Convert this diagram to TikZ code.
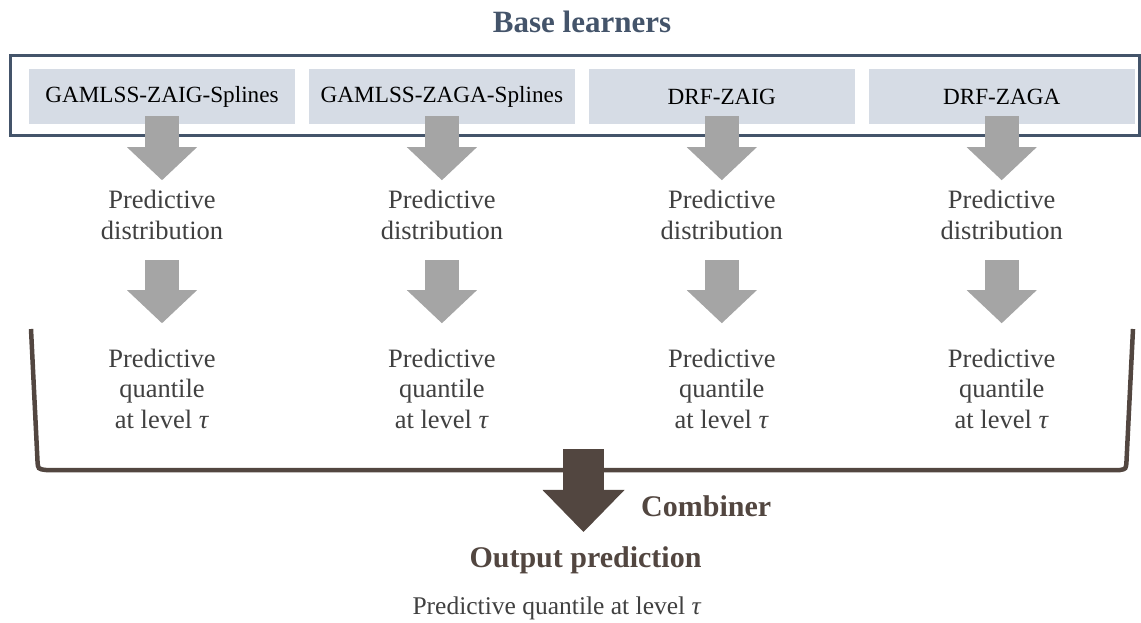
\documentclass[tikz,border=0pt]{standalone}
\usepackage{fontspec}
\setmainfont{Liberation Serif}
\usetikzlibrary{arrows.meta,positioning}

\definecolor{frameblue}{HTML}{44546A}
\definecolor{boxfill}{HTML}{D6DCE5}
\definecolor{arrowgray}{HTML}{A5A5A5}
\definecolor{textgray}{HTML}{404040}
\definecolor{combbrown}{HTML}{524640}

\begin{document}
\begin{tikzpicture}[x=1pt, y=-1pt,
    learner/.style={fill=boxfill, minimum width=266pt, minimum height=55pt, inner sep=0pt,
      font=\fontsize{23.2}{27}\selectfont},
    outcome/.style={align=center, inner sep=0pt, text=textgray, font=\fontsize{26.5}{30.5}\selectfont},
    blockarrow/.style={draw=arrowgray, line width=34pt,
      -{Triangle[width=70pt 0 0, length=33pt 0 0, line width=0pt]}},
    combarrow/.style={draw=combbrown, line width=41pt,
      -{Triangle[width=82pt 0 0, length=42pt 0 0, line width=0pt]}},
    heading/.style={inner sep=0pt, font=\bfseries\fontsize{31}{36}\selectfont}]
    \useasboundingbox (0,0) rectangle (1141,623);

    \node[heading, text=frameblue, anchor=base] (title) at (582,33) {Base learners};
    \draw[frameblue, line width=3pt] (10.5,56) rectangle (1139.5,136);

    % base learners
    \node[learner] (g1) at (162,96.5) {GAMLSS-ZAIG-Splines};
    \node[learner, right=13.5pt of g1] (g2) {GAMLSS-ZAGA-Splines};
    \node[learner, right=13.5pt of g2] (g3) {DRF-ZAIG};
    \node[learner, right=13.5pt of g3] (g4) {DRF-ZAGA};

    % first column
    \node[outcome, below=66pt of g1] (d1) {Predictive\\distribution};
    \node[outcome, below=224.5pt of g1] (q1) {Predictive\\quantile\\at level \textit{τ}};
    \draw[blockarrow] ([yshift=8pt]g1.south) -- ([yshift=10pt]d1.north);
    \draw[blockarrow] ([yshift=88.5pt]q1.north) -- ([yshift=25.5pt]q1.north);

    % second column
    \node[outcome, below=66pt of g2] (d2) {Predictive\\distribution};
    \node[outcome, below=224.5pt of g2] (q2) {Predictive\\quantile\\at level \textit{τ}};
    \draw[blockarrow] ([yshift=8pt]g2.south) -- ([yshift=10pt]d2.north);
    \draw[blockarrow] ([yshift=88.5pt]q2.north) -- ([yshift=25.5pt]q2.north);

    % third column
    \node[outcome, below=66pt of g3] (d3) {Predictive\\distribution};
    \node[outcome, below=224.5pt of g3] (q3) {Predictive\\quantile\\at level \textit{τ}};
    \draw[blockarrow] ([yshift=8pt]g3.south) -- ([yshift=10pt]d3.north);
    \draw[blockarrow] ([yshift=88.5pt]q3.north) -- ([yshift=25.5pt]q3.north);

    % fourth column
    \node[outcome, below=66pt of g4] (d4) {Predictive\\distribution};
    \node[outcome, below=224.5pt of g4] (q4) {Predictive\\quantile\\at level \textit{τ}};
    \draw[blockarrow] ([yshift=8pt]g4.south) -- ([yshift=10pt]d4.north);
    \draw[blockarrow] ([yshift=88.5pt]q4.north) -- ([yshift=25.5pt]q4.north);

    % combiner
    \draw[combbrown, line width=4.5pt] (31,329) -- (37.5,461) .. controls (38,469) .. (46,470)
      -- (1120,470) .. controls (1126,469) .. (1126.5,461) -- (1133,329);
    \coordinate (comb) at (583.5,449);
    \node[heading, text=combbrown, anchor=base west, font=\bfseries\fontsize{30}{36}\selectfont] (cname) at (641,516.5) {Combiner};
    \node[heading, text=combbrown, anchor=base, font=\bfseries\fontsize{30}{36}\selectfont] (out) at (585.5,567) {Output prediction};
    \node[outcome, anchor=base, font=\fontsize{25.5}{30}\selectfont] (final) at (557,614) {Predictive quantile at level \textit{τ}};
    \draw[combarrow] (comb) -- ([yshift=14pt]comb |- out.north);
\end{tikzpicture}
\end{document}
